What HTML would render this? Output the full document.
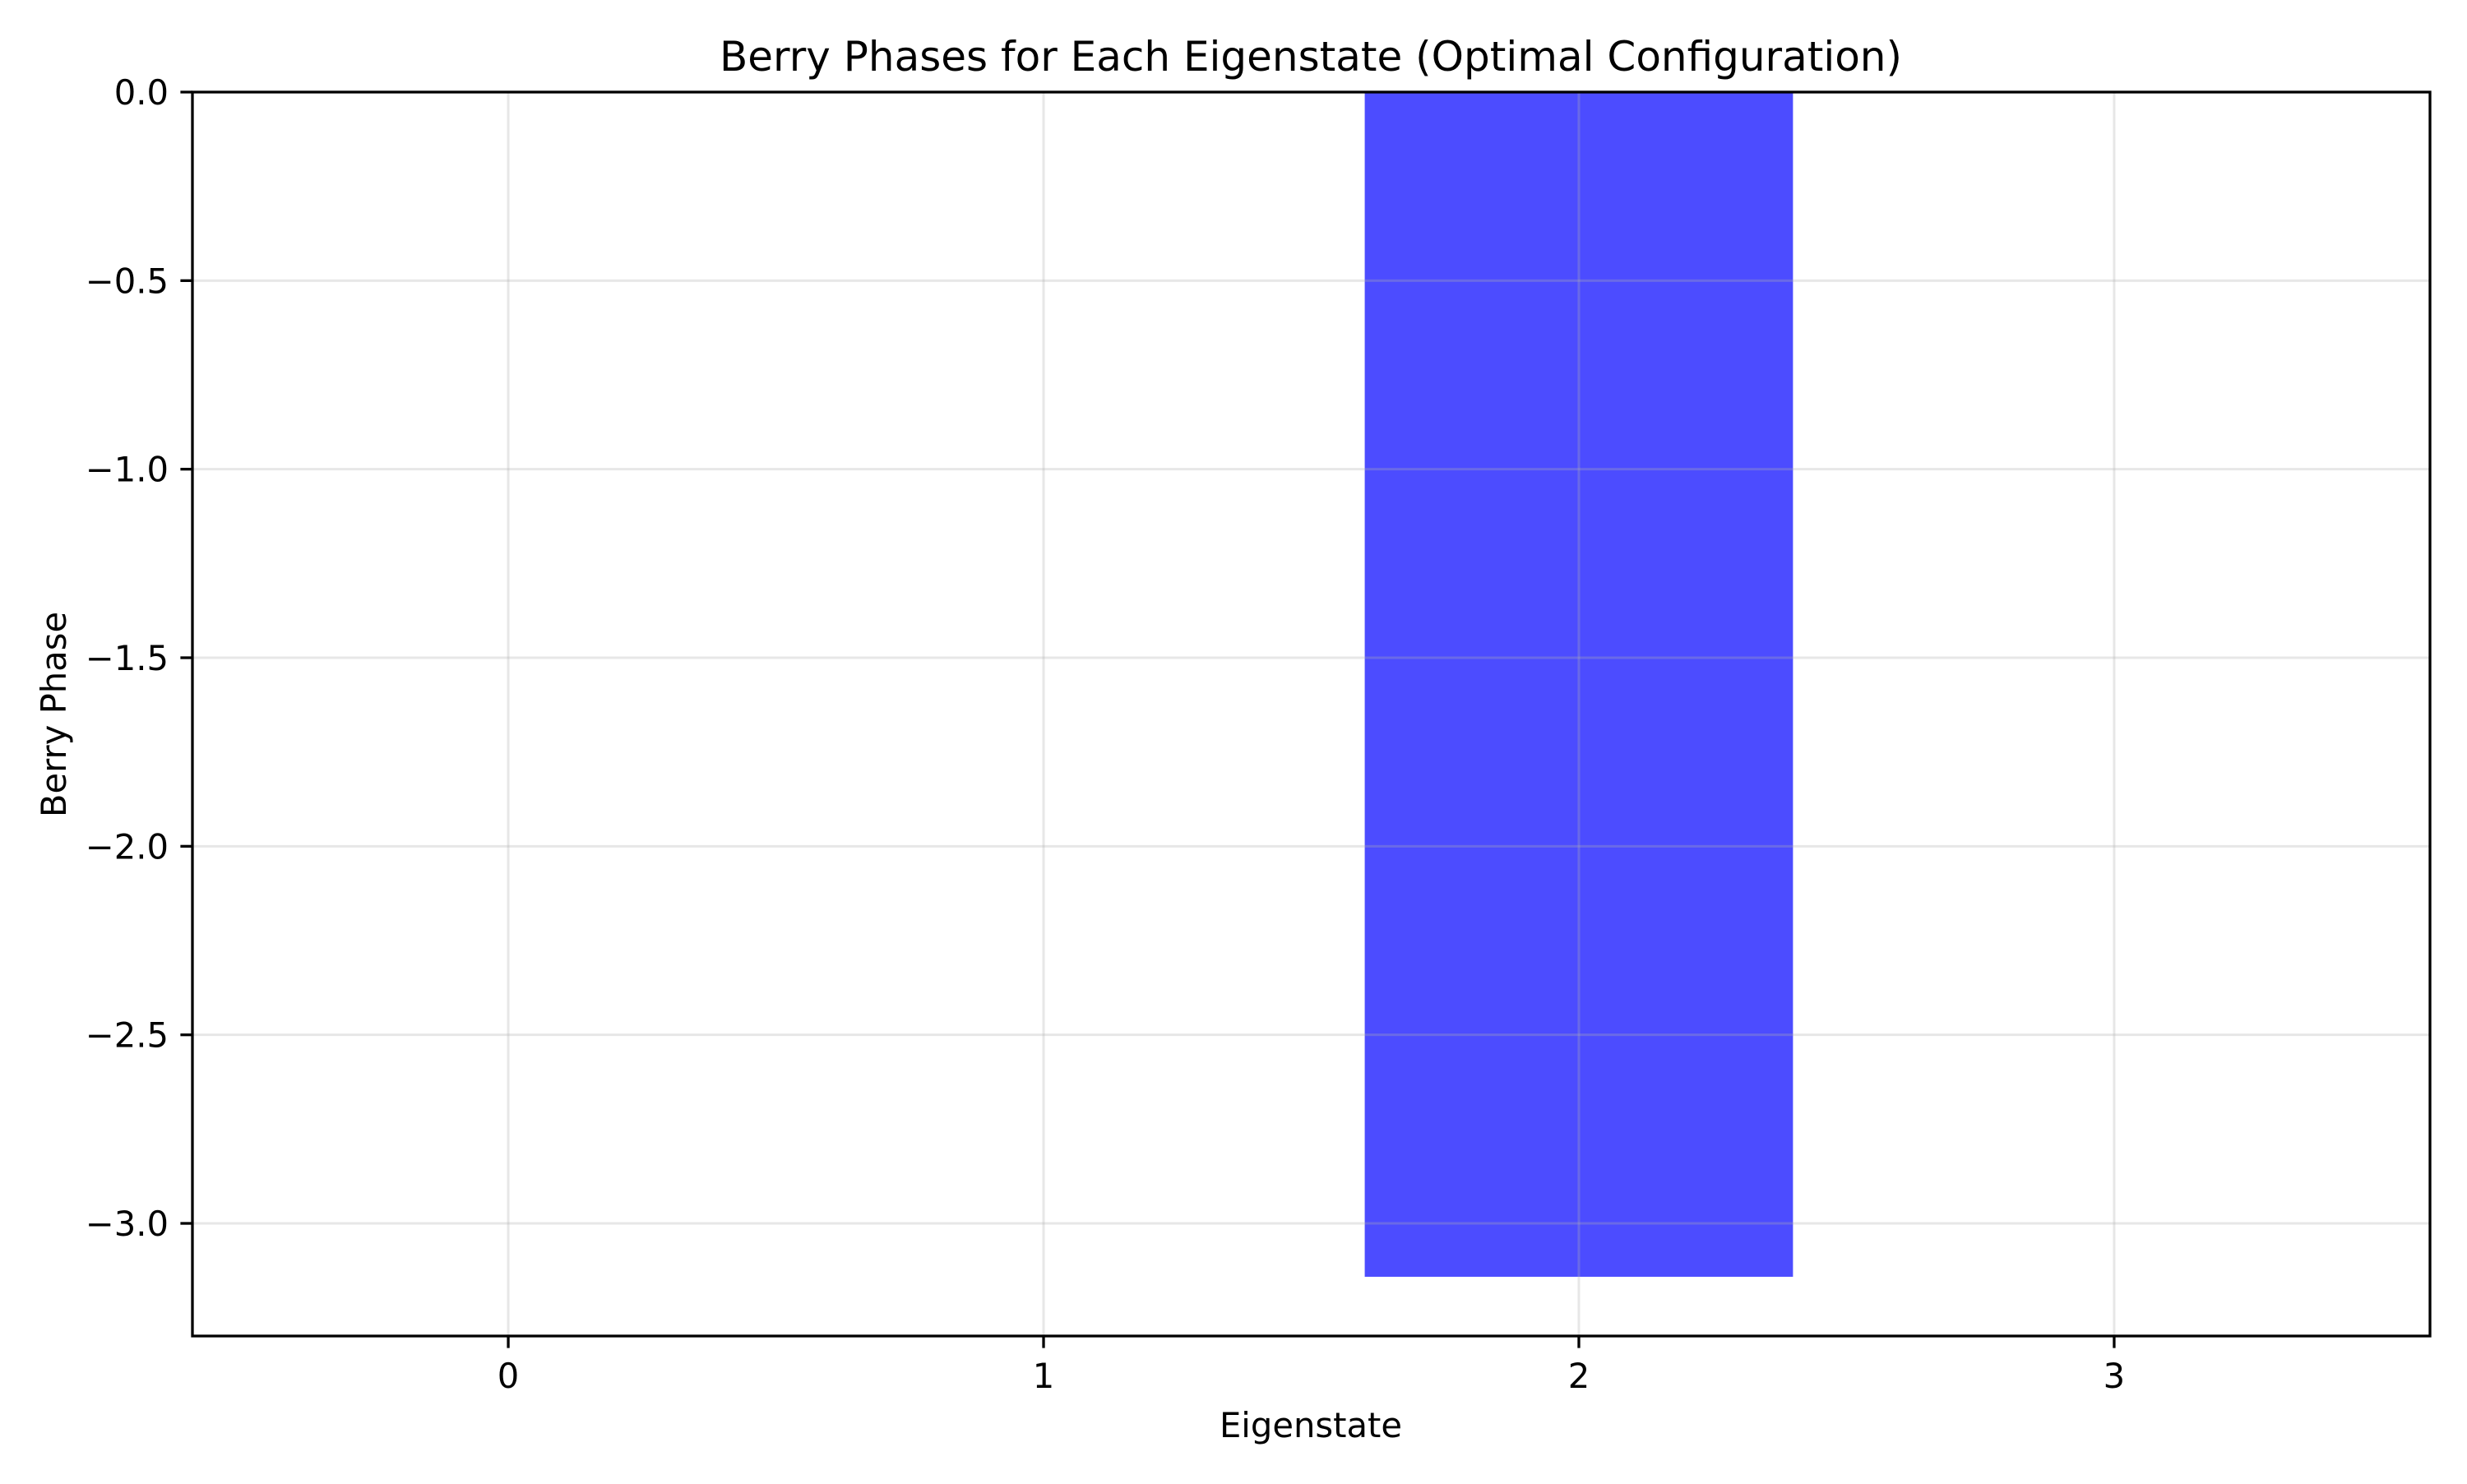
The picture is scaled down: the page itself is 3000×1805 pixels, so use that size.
<!DOCTYPE html>
<html><head><meta charset="utf-8"><style>
body{margin:0;background:#fff}
text{font-family:"DejaVu Sans","Liberation Sans",sans-serif;fill:#000}
</style></head><body>
<svg id="chart" xmlns="http://www.w3.org/2000/svg" width="3000" height="1800" viewBox="0 0 3000 1800">
<rect width="3000" height="1800" fill="#fff"/>
<g id="bars"></g>
<g id="grid2"></g>
<g id="axes"></g>
<text x="1594" y="86" font-size="50" text-anchor="middle">Berry Phases for Each Eigenstate (Optimal Configuration)</text>
<text x="1594" y="1748" font-size="41.7" text-anchor="middle">Eigenstate</text>
<text x="0" y="0" font-size="41.7" text-anchor="middle" transform="translate(80,869) rotate(-90)">Berry Phase</text>
</svg>
<script>
const categories = [0, 1, 2, 3];
const berryPhases = [0, 0, -3.14159, 0];
const xTicks = [0, 1, 2, 3];
const yTicks = [0, -0.5, -1.0, -1.5, -2.0, -2.5, -3.0];
const yTickLabels = ["0.0", "\u22120.5", "\u22121.0", "\u22121.5", "\u22122.0", "\u22122.5", "\u22123.0"];

const L=234, R=2955, T=112, B=1625;
const xMin=-0.59, xMax=3.59, yMax=0, yMin=-3.14159*1.05;
const xs=v=>L+(v-xMin)/(xMax-xMin)*(R-L);
const ys=v=>T+(yMax-v)/(yMax-yMin)*(B-T);
const NS='http://www.w3.org/2000/svg';
function mk(tag,attrs,parent){const e=document.createElementNS(NS,tag);for(const k in attrs)e.setAttribute(k,attrs[k]);parent.appendChild(e);return e;}
const bars=document.getElementById('bars'),axes=document.getElementById('axes');
function gridLines(g){
 xTicks.forEach(t=>{const l=mk('line',{x1:xs(t),x2:xs(t),y1:T,y2:B,stroke:'#b0b0b0','stroke-opacity':0.3,'stroke-width':3},g);
 
 });
 yTicks.forEach(t=>{const l=mk('line',{x1:L,x2:R,y1:ys(t),y2:ys(t),stroke:'#b0b0b0','stroke-opacity':0.3,'stroke-width':3},g);
 
 });
}
categories.forEach((c,i)=>{const v=berryPhases[i];const y0=ys(Math.max(0,v)),y1=ys(Math.min(0,v));
 const r=mk('rect',{x:xs(c-0.4),y:y0,width:xs(c+0.4)-xs(c-0.4),height:Math.max(0,y1-y0),fill:'#0000ff','fill-opacity':0.7},bars);
 
 });
gridLines(document.getElementById('grid2'));
mk('rect',{x:L,y:T,width:R-L,height:B-T,fill:'none',stroke:'#000','stroke-width':3.3},axes);
xTicks.forEach(t=>{mk('line',{x1:xs(t),x2:xs(t),y1:B,y2:B+14.6,stroke:'#000','stroke-width':3.3},axes);
 const tx=mk('text',{x:xs(t),y:1688,'font-size':41.7,'text-anchor':'middle'},axes);tx.textContent=t;
 
 });
yTicks.forEach((t,i)=>{mk('line',{x1:L-14.6,x2:L,y1:ys(t),y2:ys(t),stroke:'#000','stroke-width':3.3},axes);
 const tx=mk('text',{x:205,y:ys(t)+15,'font-size':41.7,'text-anchor':'end'},axes);tx.textContent=yTickLabels[i];
 
 });
</script>
</body></html>
